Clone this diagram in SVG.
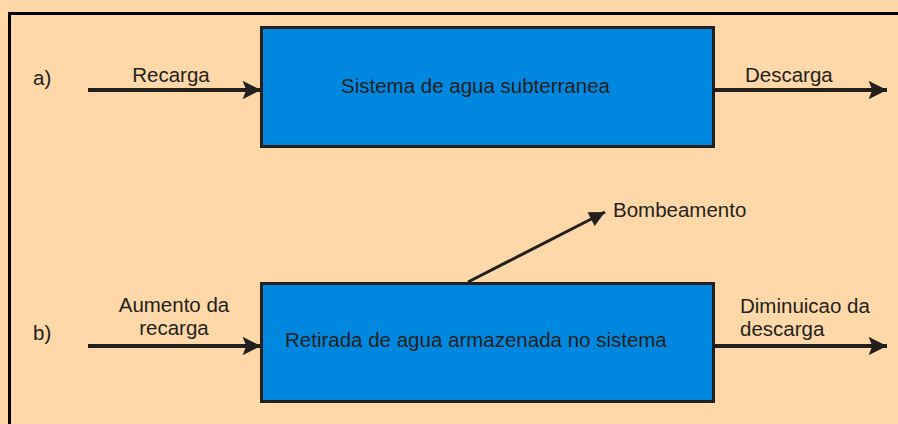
<svg xmlns="http://www.w3.org/2000/svg" width="898" height="424" viewBox="0 0 898 424">
<style>
text{font-family:"Liberation Sans",Arial,sans-serif;font-size:20.5px;fill:#231f1c}
.box{fill:#0088e0;stroke:#231f1c;stroke-width:3}
.arr{stroke:#231f1c;stroke-width:4;fill:none}
.thin{stroke:#231f1c;stroke-width:3;fill:none}
</style>
<defs>
<marker id="ah" viewBox="0 0 10 10" refX="10" refY="5" markerWidth="5.3" markerHeight="4.6" markerUnits="strokeWidth" orient="auto">
<path d="M0,0 L10,5 L0,10 L2,5 Z" fill="#231f1c"/>
</marker>
<marker id="ah2" viewBox="0 0 10 10" refX="10" refY="5" markerWidth="5.6" markerHeight="5.2" markerUnits="strokeWidth" orient="auto">
<path d="M0,0 L10,5 L0,10 Z" fill="#231f1c"/>
</marker>
</defs>
<rect width="898" height="424" fill="#fed8a8"/>
<path d="M9.5,424 V13.5 H898" fill="none" stroke="#000" stroke-width="3"/>
<g id="box-a"><rect class="box" x="261.5" y="27.5" width="452" height="119"/><text x="341" y="93">Sistema de agua subterranea</text></g>
<g id="box-b"><rect class="box" x="261.5" y="283.5" width="452" height="118"/><text x="285" y="347">Retirada de agua armazenada no sistema</text></g>
<g id="labels">
<text x="33" y="85">a)</text>
<text x="33" y="340">b)</text>
<text x="171" y="82" text-anchor="middle">Recarga</text>
<text x="745" y="82">Descarga</text>
<text x="613" y="217">Bombeamento</text>
<text x="174" y="312" text-anchor="middle">Aumento da</text>
<text x="174" y="335" text-anchor="middle">recarga</text>
<text x="740" y="313">Diminuicao da</text>
<text x="740" y="336">descarga</text>
</g>
<g id="connectors">
<line class="arr" x1="88" y1="90" x2="261" y2="90" marker-end="url(#ah)"/>
<line class="arr" x1="714" y1="90" x2="887" y2="90" marker-end="url(#ah)"/>
<line class="arr" x1="88" y1="346" x2="261" y2="346" marker-end="url(#ah)"/>
<line class="arr" x1="714" y1="346" x2="887" y2="346" marker-end="url(#ah)"/>
<line class="thin" x1="468" y1="282" x2="605" y2="212" marker-end="url(#ah2)"/>
</g>
</svg>
